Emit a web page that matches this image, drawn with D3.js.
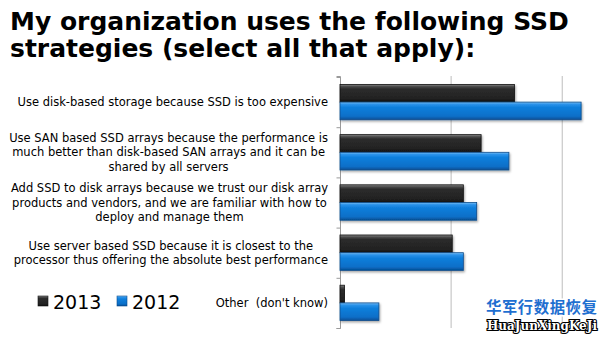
<!DOCTYPE html>
<html>
<head>
<meta charset="utf-8">
<script src="https://cdn.jsdelivr.net/npm/d3@7"></script>
<style>
  html, body { margin: 0; padding: 0; background: #fff; }
  svg { display: block; }
  text { white-space: pre; }
</style>
</head>
<body>
<svg id="chart" width="600" height="339"></svg>
<script>
const titleLines = ["My organization uses the following SSD", "strategies (select all that apply):"];
const categories = [
  ["Use disk-based storage because SSD is too expensive"],
  ["Use SAN based SSD arrays because the performance is", "much better than disk-based SAN arrays and it can be", "shared by all servers"],
  ["Add SSD to disk arrays because we trust our disk array", "products and vendors, and we are familiar with how to", "deploy and manage them"],
  ["Use server based SSD because it is closest to the", "processor thus offering the absolute best performance"],
  ["Other  (don't know)"]
];
const seriesNames = ["2013", "2012"];
const values2013 = [15.7, 12.7, 11.1, 10.1, 0.4];
const values2012 = [21.7, 15.2, 12.3, 11.1, 3.5];
const gridTicks = [0, 10, 20];
const watermark = ["华军行数据恢复", "HuaJunXingKeJi"];

const svg = d3.select("#chart");
const defs = svg.append("defs");

function grad(id, stops) {
  const g = defs.append("linearGradient").attr("id", id).attr("x1", 0).attr("y1", 0).attr("x2", 0).attr("y2", 1);
  stops.forEach(s => g.append("stop").attr("offset", s[0]).attr("stop-color", s[1]));
}
grad("gBlack", [[0, "#8a8a8a"], [0.12, "#4a4a4a"], [0.25, "#2c2c2c"], [0.8, "#222"], [1, "#111"]]);
grad("gBlue", [[0, "#7cc0f5"], [0.12, "#2b93ea"], [0.3, "#0f7fdc"], [0.8, "#0a6fc8"], [1, "#064e94"]]);
const f = defs.append("filter").attr("id", "shadow").attr("x", "-5%").attr("y", "-20%").attr("width", "115%").attr("height", "160%");
f.append("feDropShadow").attr("dx", 1).attr("dy", 1.5).attr("stdDeviation", 0.8).attr("flood-color", "#000").attr("flood-opacity", 0.35);

// Title
const title = svg.append("g").attr("font-family", "DejaVu Sans, Verdana, sans-serif").attr("font-weight", "bold").attr("fill", "#000");
title.selectAll("text").data(titleLines).join("text")
  .attr("x", 10).attr("y", (d, i) => 30 + i * 27)
  .attr("font-size", 25)
  .text(d => d);

// Scales
const x = d3.scaleLinear().domain([0, 23.4]).range([340, 600]);
const y = d3.scaleBand().domain(d3.range(categories.length)).range([77, 328]).paddingInner(0).paddingOuter(0);
const sub = d3.scaleBand().domain(seriesNames).range([0, y.bandwidth()]).paddingInner(0).paddingOuter(0.42);

// Gridlines
svg.append("g").selectAll("line").data(gridTicks.slice(1)).join("line")
  .attr("x1", d => x(d)).attr("x2", d => x(d)).attr("y1", 76).attr("y2", 328)
  .attr("stroke", "#bdbdbd").attr("stroke-width", 1);

// Axis
const yAxis = d3.axisLeft(d3.scaleLinear().domain([0, categories.length]).range([77, 328]))
  .ticks(categories.length).tickSize(4).tickFormat("");
const ax = svg.append("g").attr("transform", "translate(340.5,0)").call(yAxis);
ax.selectAll("path, line").attr("stroke", "#9a9a9a");
ax.select(".domain").attr("d", "M-4,76.5H0V328.5H-4");

// Bars
const data = categories.map((c, i) => ({i, vals: [values2013[i], values2012[i]]}));
const groups = svg.append("g").selectAll("g").data(data).join("g")
  .attr("transform", d => `translate(0,${y(d.i)})`);
groups.selectAll("rect").data(d => d.vals.map((v, k) => ({v, k}))).join("rect")
  .attr("x", x(0))
  .attr("y", d => sub(seriesNames[d.k]))
  .attr("width", d => x(d.v) - x(0))
  .attr("height", sub.bandwidth())
  .attr("fill", d => d.k === 0 ? "url(#gBlack)" : "url(#gBlue)")
  .attr("stroke", d => d.k === 0 ? "#111" : "#0a4c8c")
  .attr("stroke-width", 0.8)
  .attr("filter", "url(#shadow)");

// Category labels
const labelG = svg.append("g").attr("font-family", "DejaVu Sans, Verdana, sans-serif").attr("fill", "#000");
data.forEach(d => {
  const lines = categories[d.i];
  const fs = 11.5;
  const g = labelG.append("g");
  const cy = y(d.i) + y.bandwidth() / 2;
  const lh = 14.4;
  const texts = g.selectAll("text").data(lines).join("text")
    .attr("font-size", fs)
    .attr("text-anchor", "middle")
    .attr("y", (t, j) => cy + (j - (lines.length - 1) / 2) * lh + 4)
    .text(t => t);
  let maxW = 0;
  texts.each(function() { maxW = Math.max(maxW, this.getComputedTextLength()); });
  texts.attr("x", 328 - maxW / 2);
});

// Legend
const legend = svg.append("g").attr("font-family", "DejaVu Sans, Verdana, sans-serif");
const legItems = [{name: seriesNames[0], fill: "url(#gBlack)", stroke: "#111", x: 38}, {name: seriesNames[1], fill: "url(#gBlue)", stroke: "#0a4c8c", x: 117}];
legItems.forEach(it => {
  legend.append("rect").attr("x", it.x).attr("y", 296).attr("width", 10).attr("height", 10)
    .attr("fill", it.fill).attr("stroke", it.stroke).attr("stroke-width", 0.6);
  legend.append("text").attr("x", it.x + 15).attr("y", 309).attr("font-size", 19).attr("fill", "#000").text(it.name);
});

// Watermark
const wm = svg.append("g").attr("font-family", "Noto Sans CJK SC, sans-serif").attr("font-weight", "bold");
wm.append("text").attr("x", 486).attr("y", 313).attr("font-size", 15.5).attr("textLength", 111)
  .attr("fill", "#1f6fd0").attr("stroke", "#fff").attr("stroke-width", 3).attr("paint-order", "stroke").text(watermark[0]);
wm.append("text").attr("x", 487).attr("y", 330).attr("font-size", 12).attr("font-family", "DejaVu Serif, serif").attr("textLength", 110)
  .attr("fill", "#fff").attr("stroke", "#000").attr("stroke-width", 2.2).attr("paint-order", "stroke").text(watermark[1]);
</script>
</body>
</html>
